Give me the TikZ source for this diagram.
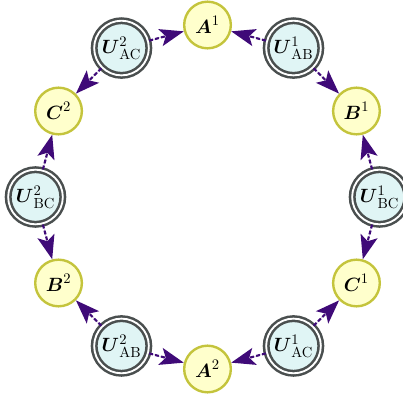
\documentclass[tikz,border=0pt]{standalone}
\usepackage{amsmath}
\usetikzlibrary{arrows.meta}
\definecolor{arrc}{HTML}{3F0A78}
\definecolor{varb}{HTML}{C4C43C}
\definecolor{varf}{HTML}{FFFFCC}
\definecolor{ub}{HTML}{4A4F4F}
\definecolor{uf}{HTML}{E0F5F5}
\tikzset{
  varnode/.style={circle, draw=varb, fill=varf, line width=1.8pt, minimum size=35pt, inner sep=0pt, font=\fontsize{15}{17}\selectfont},
  unode/.style={circle, draw=ub, double=white, double distance=1.4pt, line width=1.9pt, fill=uf, minimum size=41pt, inner sep=0pt, font=\fontsize{15}{17}\selectfont},
  arr/.style={draw=arrc, line width=1.6pt, dash pattern=on 3pt off 1.6pt, -{Stealth[length=18pt, width=13pt, inset=4pt]}, fill=arrc}
}
\begin{document}
\begin{tikzpicture}[x=0.75pt, y=-0.75pt]
\useasboundingbox (0,0) rectangle (403,396);
\def\cx{207.5}\def\cy{197}\def\R{172}
\node[varnode] (A1) at ({\cx+\R*cos(90)},{\cy-\R*sin(90)}) {$\boldsymbol{A}^1$};
\node[unode] (UAB1) at ({\cx+\R*cos(60)},{\cy-\R*sin(60)}) {$\boldsymbol{U}^1_{\mathrm{AB}}$};
\node[varnode] (B1) at ({\cx+\R*cos(30)},{\cy-\R*sin(30)}) {$\boldsymbol{B}^1$};
\node[unode] (UBC1) at ({\cx+\R*cos(0)},{\cy-\R*sin(0)}) {$\boldsymbol{U}^1_{\mathrm{BC}}$};
\node[varnode] (C1) at ({\cx+\R*cos(-30)},{\cy-\R*sin(-30)}) {$\boldsymbol{C}^1$};
\node[unode] (UAC1) at ({\cx+\R*cos(-60)},{\cy-\R*sin(-60)}) {$\boldsymbol{U}^1_{\mathrm{AC}}$};
\node[varnode] (A2) at ({\cx+\R*cos(-90)},{\cy-\R*sin(-90)}) {$\boldsymbol{A}^2$};
\node[unode] (UAB2) at ({\cx+\R*cos(-120)},{\cy-\R*sin(-120)}) {$\boldsymbol{U}^2_{\mathrm{AB}}$};
\node[varnode] (B2) at ({\cx+\R*cos(-150)},{\cy-\R*sin(-150)}) {$\boldsymbol{B}^2$};
\node[unode] (UBC2) at ({\cx+\R*cos(180)},{\cy-\R*sin(180)}) {$\boldsymbol{U}^2_{\mathrm{BC}}$};
\node[varnode] (C2) at ({\cx+\R*cos(150)},{\cy-\R*sin(150)}) {$\boldsymbol{C}^2$};
\node[unode] (UAC2) at ({\cx+\R*cos(120)},{\cy-\R*sin(120)}) {$\boldsymbol{U}^2_{\mathrm{AC}}$};
\draw[arr] (UAB1) -- (A1);
\draw[arr] (UAB1) -- (B1);
\draw[arr] (UBC1) -- (B1);
\draw[arr] (UBC1) -- (C1);
\draw[arr] (UAC1) -- (C1);
\draw[arr] (UAC1) -- (A2);
\draw[arr] (UAB2) -- (A2);
\draw[arr] (UAB2) -- (B2);
\draw[arr] (UBC2) -- (B2);
\draw[arr] (UBC2) -- (C2);
\draw[arr] (UAC2) -- (C2);
\draw[arr] (UAC2) -- (A1);
\end{tikzpicture}
\end{document}
